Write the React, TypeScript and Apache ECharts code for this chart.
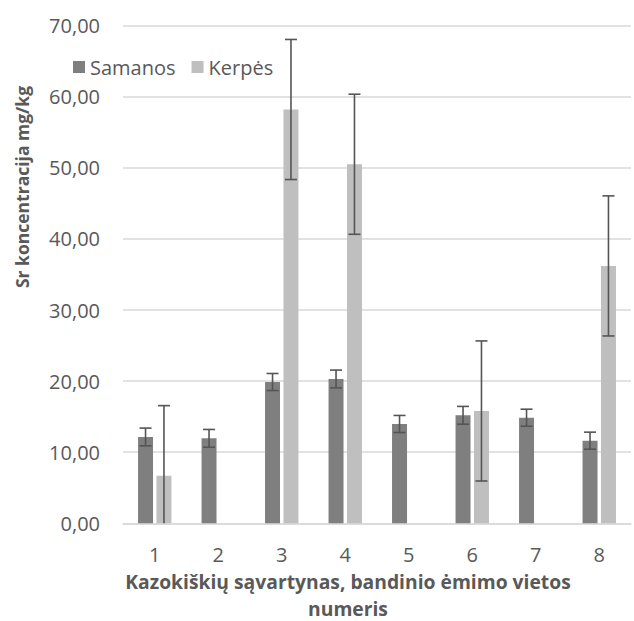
import React, { useEffect, useRef } from "react";
import * as echarts from "echarts";

// Sampling sites
const categories = ["1", "2", "3", "4", "5", "6", "7", "8"];

// Mean Sr concentration, mg/kg
const samanos = [12.14, 11.95, 19.87, 20.3, 13.97, 15.19, 14.85, 11.62];
const kerpes: (number | null)[] = [6.7, null, 58.2, 50.5, null, 15.8, null, 36.2];

// Error bar half-widths
const samanosErr = [1.25, 1.25, 1.2, 1.25, 1.2, 1.25, 1.2, 1.2];
const kerpesErr: (number | null)[] = [9.85, null, 9.85, 9.85, null, 9.85, null, 9.85];

const seriesNames = ["Samanos", "Kerpės"];
const yTitle = "Sr koncentracija mg/kg";
const xTitle = "Kazokiškių sąvartynas, bandinio ėmimo vietos\nnumeris";

const FONT = "'Open Sans', sans-serif";
const TEXT = "#595959";
const BAR_W = 0.236; // bar width as a share of the category band
const BAR_GAP = 0.23; // gap between bars as a share of bar width

function errorSeries(values: (number | null)[], errs: (number | null)[], side: number) {
  const data = values.map((v, i) =>
    v == null || errs[i] == null ? [i, "-", "-"] : [i, v, errs[i] as number]
  );
  return {
    type: "custom",
    name: "err" + side,
    silent: true,
    z: 5,
    encode: { x: 0, y: 1 },
    data,
    renderItem: (params: any, api: any) => {
      const v = api.value(1);
      const e = api.value(2);
      if (typeof v !== "number" || isNaN(v) || isNaN(e)) return null;
      const band = api.size([1, 0])[0];
      const off = (band * BAR_W * (1 + BAR_GAP)) / 2 * side;
      const top = api.coord([api.value(0), v + e]);
      const bot = api.coord([api.value(0), Math.max(0, v - e)]);
      const x = top[0] + off;
      const cap = 6;
      const style = { stroke: "#555555", lineWidth: 1.6 };
      const children: any[] = [
        { type: "line", shape: { x1: x, y1: top[1], x2: x, y2: bot[1] }, style },
        { type: "line", shape: { x1: x - cap, y1: top[1], x2: x + cap, y2: top[1] }, style },
      ];
      if (v - e > 0) {
        children.push({ type: "line", shape: { x1: x - cap, y1: bot[1], x2: x + cap, y2: bot[1] }, style });
      }
      return { type: "group", children };
    },
  };
}

export default function App() {
  const ref = useRef<HTMLDivElement>(null);

  useEffect(() => {
    if (!ref.current) return;
    const chart = echarts.init(ref.current, undefined, { renderer: "svg" });
    chart.setOption({
      animation: false,
      backgroundColor: "#ffffff",
      textStyle: { fontFamily: FONT },
      grid: { left: 123, right: 3, top: 25.6, bottom: 97.7, containLabel: false },
      legend: {
        data: seriesNames,
        left: 68,
        top: 52,
        icon: "rect",
        itemWidth: 12,
        itemHeight: 12,
        itemGap: 16,
        textStyle: { color: TEXT, fontSize: 20, fontFamily: FONT },
      },
      xAxis: {
        type: "category",
        data: categories,
        axisLine: { lineStyle: { color: "#d9d9d9", width: 1.5 } },
        axisTick: { show: false },
        axisLabel: { color: TEXT, fontSize: 20, fontFamily: FONT, margin: 21 },
      },
      yAxis: {
        type: "value",
        min: 0,
        max: 70,
        interval: 10,
        axisLine: { show: false },
        axisTick: { show: false },
        splitLine: { lineStyle: { color: "#d9d9d9", width: 1.5 } },
        axisLabel: {
          color: TEXT,
          fontSize: 20,
          fontFamily: FONT,
          margin: 23,
          formatter: (v: number) => v.toFixed(2).replace(".", ","),
        },
      },
      series: [
        {
          name: seriesNames[0],
          type: "bar",
          data: samanos,
          barWidth: BAR_W * 100 + "%",
          barGap: BAR_GAP * 100 + "%",
          itemStyle: { color: "#7f7f7f" },
        },
        {
          name: seriesNames[1],
          type: "bar",
          data: kerpes.map((v) => (v == null ? "-" : v)),
          barWidth: BAR_W * 100 + "%",
          barGap: BAR_GAP * 100 + "%",
          itemStyle: { color: "#bfbfbf" },
        },
        errorSeries(samanos, samanosErr, -1),
        errorSeries(kerpes, kerpesErr, 1),
      ],
      graphic: [
        {
          type: "text",
          x: 22,
          y: 187,
          rotation: Math.PI / 2,
          style: {
            text: yTitle,
            fill: TEXT,
            font: `bold 17.5px ${FONT}`,
            align: "center",
            verticalAlign: "middle",
          },
        },
        {
          type: "text",
          x: 348,
          y: 595,
          style: {
            text: xTitle,
            fill: TEXT,
            font: `bold 19.3px ${FONT}`,
            lineHeight: 27,
            align: "center",
            verticalAlign: "middle",
          },
        },
      ],
    });
    return () => chart.dispose();
  }, []);

  return <div ref={ref} style={{ width: 634, height: 621, position: "absolute", left: 0, top: 0 }} />;
}
